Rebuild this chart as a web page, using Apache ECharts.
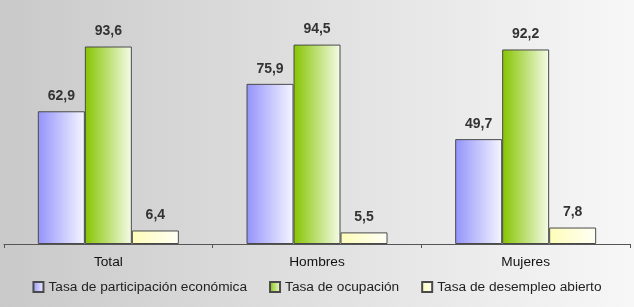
<!DOCTYPE html>
<html>
<head>
<meta charset="utf-8">
<script src="https://cdn.jsdelivr.net/npm/echarts@6/dist/echarts.min.js"></script>
<style>
html,body{margin:0;padding:0;}
#main{width:634px;height:307px;}
</style>
</head>
<body>
<div id="main"></div>
<script>
var categorias = ['Total', 'Hombres', 'Mujeres'];
var participacion = [62.9, 75.9, 49.7];
var ocupacion = [93.6, 94.5, 92.2];
var desempleo = [6.4, 5.5, 7.8];
var nombres = ['Tasa de participación económica', 'Tasa de ocupación', 'Tasa de desempleo abierto'];

// degradado horizontal de cada barra
function grad(c1, c2){
	return new echarts.graphic.LinearGradient(0, 0, 1, 0, [
		{offset: 0, color: c1},
		{offset: 1, color: c2}
	]);
}

var etiqueta = {
	show: true,
	position: 'top',
	distance: 8,
	color: '#333',
	fontWeight: 'bold',
	fontSize: 14,
	fontFamily: 'Arial, Liberation Sans, sans-serif',
	formatter: function(p){ return String(p.value).replace('.', ','); }
};

function serie(nombre, datos, c1, c2){
	return {
		name: nombre,
		type: 'bar',
		data: datos,
		barWidth: 47,
		barGap: '0%',
		itemStyle: {color: grad(c1, c2), borderColor: '#4a4a4a', borderWidth: 1},
		label: etiqueta
	};
}

var option = {
	animation: false,
	backgroundColor: new echarts.graphic.LinearGradient(0, 0, 1, 0, [
		{offset: 0, color: '#c9c9c9'},
		{offset: 1, color: '#f7f7f7'}
	]),
	grid: {left: 4, right: 4, top: 33, bottom: 63},
	legend: {
		data: nombres,
		bottom: 8,
		left: 'center',
		icon: 'rect',
		itemWidth: 10,
		itemHeight: 10,
		itemGap: 22,
		textStyle: {color: '#222', fontSize: 13.7, fontFamily: 'Arial, Liberation Sans, sans-serif'}
	},
	xAxis: {
		type: 'category',
		data: categorias,
		axisLine: {lineStyle: {color: '#555', width: 1}},
		axisTick: {show: true, length: 4, lineStyle: {color: '#555'}},
		axisLabel: {color: '#111', fontSize: 13.7, margin: 11, fontFamily: 'Arial, Liberation Sans, sans-serif'}
	},
	yAxis: {
		type: 'value',
		min: 0,
		max: 100,
		show: false,
		splitLine: {show: false}
	},
	series: [
		serie(nombres[0], participacion, '#9393fb', '#f6f6ff'),
		serie(nombres[1], ocupacion, '#86c400', '#f5fbe9'),
		serie(nombres[2], desempleo, '#fdfdb8', '#fffff6')
	]
};

var myChart = echarts.init(document.getElementById('main'));
myChart.setOption(option);
</script>
</body>
</html>
